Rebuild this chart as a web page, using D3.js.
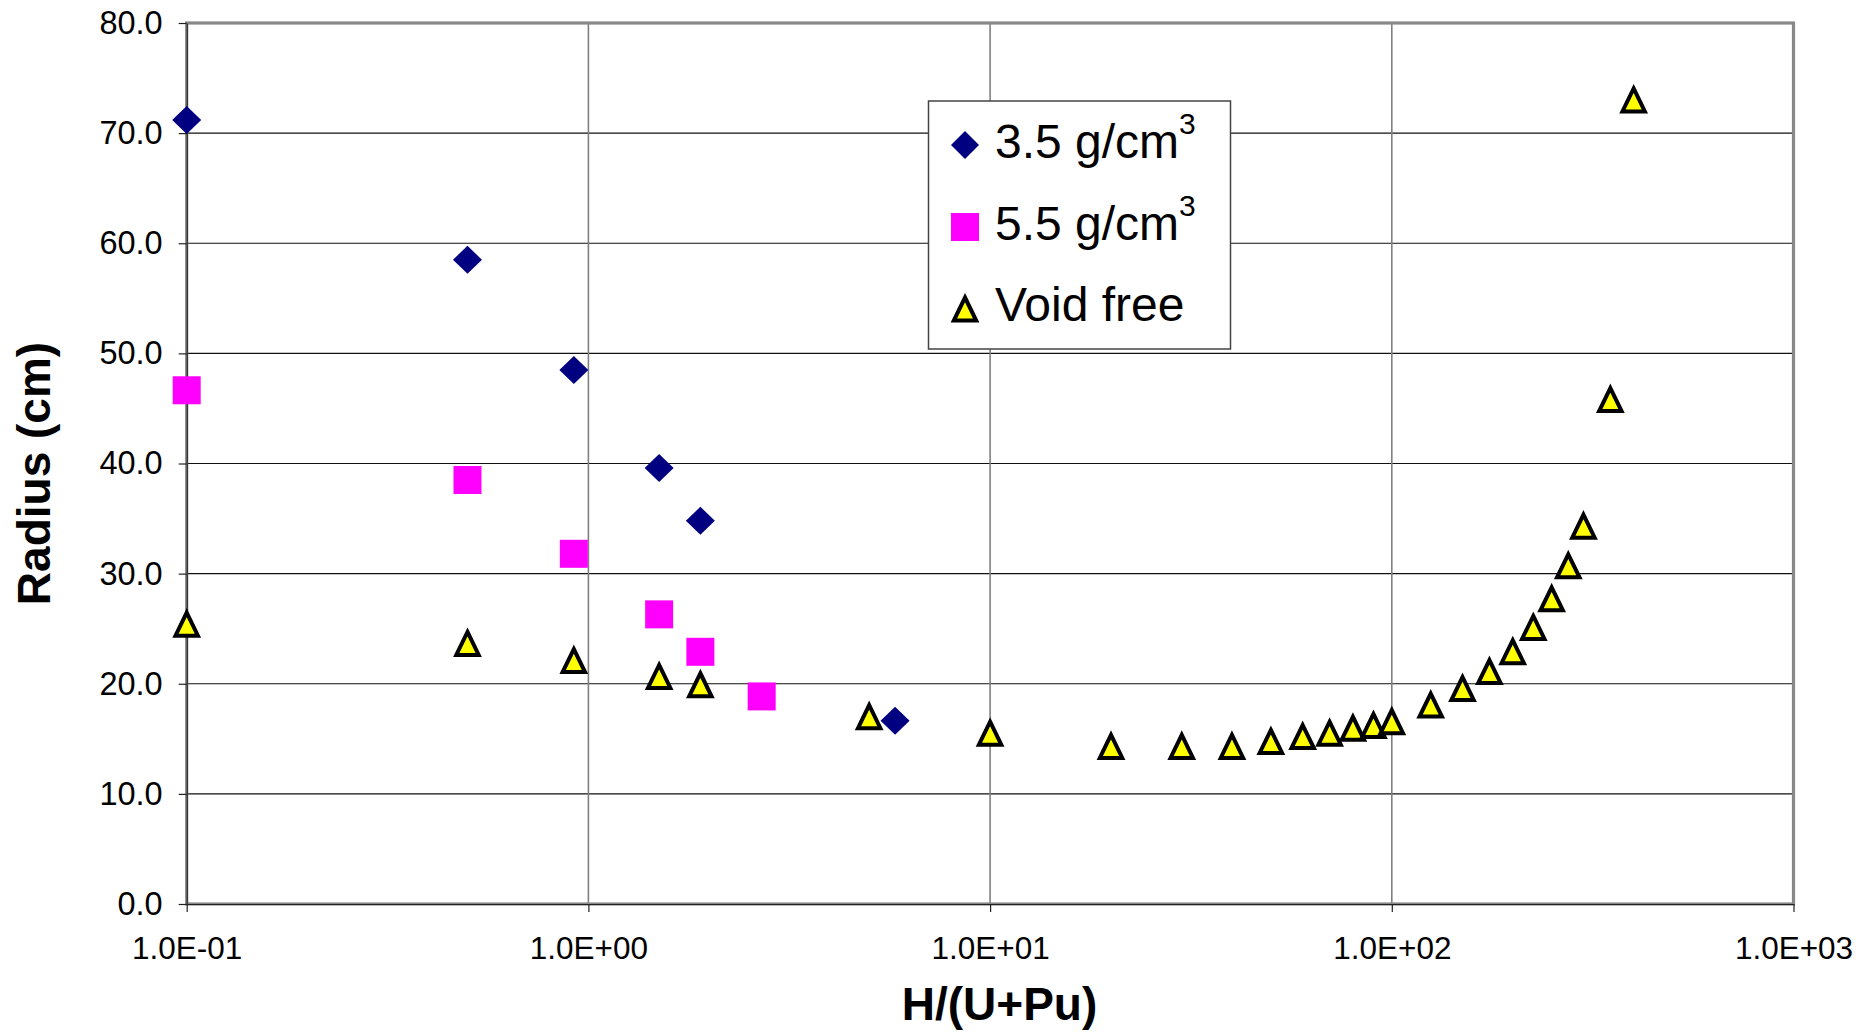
<!DOCTYPE html>
<html>
<head>
<meta charset="utf-8">
<script src="https://cdn.jsdelivr.net/npm/d3@7"></script>
<style>
  html, body { margin: 0; padding: 0; background: #fff; }
  svg { display: block; font-family: "Liberation Sans", Arial, sans-serif; }
</style>
</head>
<body>
<svg id="chart" width="1866" height="1034"></svg>
<script>
// ---- Data ----
const xDiamond = [0.1, 0.5, 0.92, 1.5, 1.9, 5.8];
const yDiamond = [71.2, 58.5, 48.5, 39.6, 34.8, 16.65];

const xSquare = [0.1, 0.5, 0.92, 1.5, 1.9, 2.7];
const ySquare = [46.65, 38.5, 31.8, 26.3, 22.9, 18.85];

const xTriangle = [0.1, 0.5, 0.92, 1.5, 1.9, 5, 10, 20, 30, 40, 50, 60, 70, 80, 90, 100, 125, 150, 175, 200, 225, 250, 275, 300, 350, 400];
const yTriangle = [25.5, 23.75, 22.2, 20.75, 20.0, 17.1, 15.6, 14.4, 14.4, 14.4, 14.85, 15.3, 15.6, 16.05, 16.3, 16.65, 18.15, 19.65, 21.2, 23.0, 25.2, 27.8, 30.8, 34.4, 45.9, 73.1];

const seriesNames = ["3.5 g/cm", "5.5 g/cm", "Void free"];
const xTickValues = [0.1, 1, 10, 100, 1000];
const yTickValues = [0, 10, 20, 30, 40, 50, 60, 70, 80];
const xTitle = "H/(U+Pu)";
const yTitle = "Radius (cm)";

// ---- Layout ----
const svg = d3.select("#chart");
const L = 186.7, R = 1793.5, T = 23, B = 904;

const x = d3.scaleLog().domain([0.1, 1000]).range([L, R]);
const y = d3.scaleLinear().domain([0, 80]).range([B, T]);

// marker shapes (size-based)
const diamondPath = (hw, hh) => `M0,${-hh}L${hw},0L0,${hh}L${-hw},0Z`;
const squarePath = (h) => `M${-h},${-h}H${h}V${h}H${-h}Z`;
const trianglePath = () => `M0,-10.5L11.2,12.5L-11.2,12.5Z`;

// ---- Gridlines ----
const grid = svg.append("g");
grid.selectAll("line.h").data(yTickValues.filter(v => v > 0 && v < 80)).join("line")
  .attr("x1", L).attr("x2", R).attr("y1", d => y(d)).attr("y2", d => y(d))
  .attr("stroke", "#111").attr("stroke-width", 1.2);
grid.selectAll("line.v").data(xTickValues.filter(v => v > 0.1 && v < 1000)).join("line")
  .attr("x1", d => x(d)).attr("x2", d => x(d)).attr("y1", T).attr("y2", B)
  .attr("stroke", "#808080").attr("stroke-width", 1.6);

// ---- Plot border ----
svg.append("rect").attr("x", L).attr("y", T).attr("width", R - L).attr("height", B - T)
  .attr("fill", "none").attr("stroke", "#888").attr("stroke-width", 3.2);

// ---- Axes ----
const fmtX = d => {
  const e = Math.round(Math.log10(d));
  return "1.0E" + (e < 0 ? "-" : "+") + String(Math.abs(e)).padStart(2, "0");
};
const xAxis = d3.axisBottom(x).tickValues(xTickValues).tickFormat(fmtX).tickSize(8).tickSizeOuter(0).tickPadding(25);
const gx = svg.append("g").attr("transform", `translate(0,${B})`).call(xAxis);
gx.select(".domain").attr("stroke", "#222").attr("stroke-width", 1.2);
gx.selectAll(".tick line").attr("stroke", "#222").attr("stroke-width", 1.2);
gx.selectAll(".tick text").attr("font-size", 31.5).attr("fill", "#000")
  .attr("font-family", "Liberation Sans, Arial, sans-serif");

const yAxis = d3.axisLeft(y).tickValues(yTickValues).tickFormat(d3.format(".1f")).tickSize(8).tickSizeOuter(0).tickPadding(16);
const gy = svg.append("g").attr("transform", `translate(${L},0)`).call(yAxis);
gy.select(".domain").attr("stroke", "#222").attr("stroke-width", 1.2);
gy.selectAll(".tick line").attr("stroke", "#222").attr("stroke-width", 1.2);
gy.selectAll(".tick text").attr("font-size", 32.5).attr("fill", "#000")
  .attr("font-family", "Liberation Sans, Arial, sans-serif");

// ---- Axis titles ----
svg.append("text").attr("x", 999.5).attr("y", 1020)
  .attr("text-anchor", "middle").attr("font-size", 46).attr("font-weight", "bold")
  .text(xTitle);
svg.append("text").attr("transform", `translate(50,473.5) rotate(-90)`)
  .attr("text-anchor", "middle").attr("font-size", 46).attr("font-weight", "bold")
  .text(yTitle);

// ---- Markers ----
const marks = svg.append("g");
marks.selectAll("path.dia").data(d3.zip(xDiamond, yDiamond)).join("path")
  .attr("transform", d => `translate(${x(d[0])},${y(d[1])})`)
  .attr("d", diamondPath(14.5, 14)).attr("fill", "#000080");
marks.selectAll("path.sq").data(d3.zip(xSquare, ySquare)).join("path")
  .attr("transform", d => `translate(${x(d[0])},${y(d[1])})`)
  .attr("d", squarePath(14)).attr("fill", "#FF00FF");
marks.selectAll("path.tri").data(d3.zip(xTriangle, yTriangle)).join("path")
  .attr("transform", d => `translate(${x(d[0])},${y(d[1])})`)
  .attr("d", trianglePath()).attr("fill", "#FFFF00").attr("stroke", "#000")
  .attr("stroke-width", 4).attr("stroke-linejoin", "miter");

// ---- Legend ----
const lg = svg.append("g");
lg.append("rect").attr("x", 928.5).attr("y", 101).attr("width", 302).attr("height", 248)
  .attr("fill", "#fff").attr("stroke", "#444").attr("stroke-width", 1.5);
const rowsY = [145, 227, 308];
lg.append("path").attr("transform", `translate(965,${rowsY[0]})`).attr("d", diamondPath(14, 14)).attr("fill", "#000080");
lg.append("path").attr("transform", `translate(965,${rowsY[1]})`).attr("d", squarePath(14)).attr("fill", "#FF00FF");
lg.append("path").attr("transform", `translate(965,${rowsY[2]})`).attr("d", trianglePath()).attr("fill", "#FFFF00")
  .attr("stroke", "#000").attr("stroke-width", 4);
seriesNames.forEach((name, i) => {
  const t = lg.append("text").attr("x", 995).attr("y", rowsY[i] + 13).attr("font-size", 48).attr("fill", "#000");
  t.append("tspan").text(name);
  if (i < 2) t.append("tspan").attr("font-size", 30).attr("dy", -24).text("3");
});
</script>
</body>
</html>
